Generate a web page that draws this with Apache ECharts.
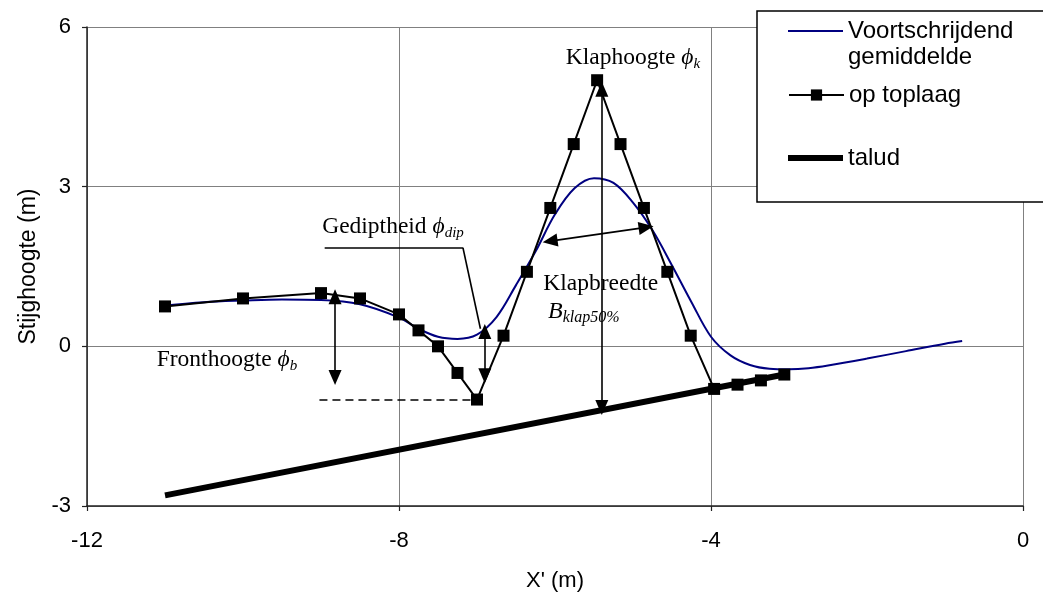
<!DOCTYPE html>
<html>
<head>
<meta charset="utf-8">
<script src="https://cdn.jsdelivr.net/npm/echarts@6/dist/echarts.min.js"></script>
<style>
  html, body { margin: 0; padding: 0; background: #fff; }
  #chart { width: 1043px; height: 593px; }
</style>
</head>
<body>
<div id="chart"></div>
<script>
// Moving average of the water level
const avgX = [-11.06, -10.5, -10, -9.5, -9, -8.5, -8, -7.75, -7.5, -7.25, -7, -6.75, -6.5, -6.25, -6, -5.75, -5.5, -5.25, -5, -4.75, -4.5, -4.25, -4, -3.75, -3.5, -3.25, -3, -2.75, -2.5, -2, -1.5, -1, -0.78];
const avgY = [0.76, 0.83, 0.86, 0.88, 0.87, 0.79, 0.54, 0.33, 0.18, 0.14, 0.22, 0.55, 1.15, 1.78, 2.48, 2.97, 3.16, 3.07, 2.70, 2.18, 1.52, 0.83, 0.18, -0.17, -0.35, -0.42, -0.43, -0.41, -0.36, -0.23, -0.09, 0.05, 0.10];

// Measured levels on the top layer
const topX = [-11, -10, -9, -8.5, -8, -7.75, -7.5, -7.25, -7, -6.66, -6.36, -6.06, -5.76, -5.46, -5.16, -4.86, -4.56, -4.26, -3.96, -3.66, -3.36, -3.06];
const topY = [0.75, 0.9, 1.0, 0.9, 0.6, 0.3, 0, -0.5, -1.0, 0.2, 1.4, 2.6, 3.8, 5.0, 3.8, 2.6, 1.4, 0.2, -0.8, -0.72, -0.64, -0.53];

// Slope (talud)
const taludX = [-11, -3.06];
const taludY = [-2.8, -0.53];

const pairs = (xs, ys) => xs.map((x, i) => [x, ys[i]]);

const SANS = 'Liberation Sans, Arial, sans-serif';
const SERIF = 'Liberation Serif, Times New Roman, DejaVu Serif, serif';

// Annotation arrows and guide lines, in axis units
const arrowHead = { symbol: 'triangle', symbolSize: [13, 15] };
const arrow = (a, b) => [Object.assign({ coord: a }, arrowHead), Object.assign({ coord: b }, arrowHead)];
const plain = (a, b, style) => [{ coord: a, symbol: 'none', lineStyle: style }, { coord: b, symbol: 'none' }];

const annotationLines = [
  arrow([-8.82, 0.93], [-8.82, -0.585]),          // front height
  arrow([-6.90, 0.28], [-6.90, -0.553]),          // dip
  arrow([-5.40, 4.83], [-5.40, -1.15]),           // crest height
  arrow([-6.063, 1.977], [-4.832, 2.235]),        // crest width
  plain([-9.02, -1.0], [-7.05, -1.0], { type: [8, 5], width: 1.6 }),
  plain([-8.953, 1.853], [-7.18, 1.853]),
  plain([-7.18, 1.853], [-6.956, 0.33])
];

const rich = {
  t: { fontFamily: SERIF, fontSize: 23.5, color: '#000', lineHeight: 28, verticalAlign: 'middle' },
  p: { fontFamily: SERIF, fontSize: 23.5, fontStyle: 'italic', color: '#000', lineHeight: 28, verticalAlign: 'middle' },
  s: { fontFamily: SERIF, fontSize: 15, fontStyle: 'italic', color: '#000', lineHeight: 16, verticalAlign: 'bottom' },
  b: { fontFamily: SERIF, fontSize: 24, fontStyle: 'italic', color: '#000', lineHeight: 28, verticalAlign: 'middle' },
  bs: { fontFamily: SERIF, fontSize: 16, fontStyle: 'italic', color: '#000', lineHeight: 16, verticalAlign: 'bottom' }
};

const annotationTexts = [
  { coord: [-8.077, 2.254], text: '{t|Gediptheid }{p|ϕ}{s|dip}' },
  { coord: [-10.206, -0.246], text: '{t|Fronthoogte }{p|ϕ}{s|b}' },
  { coord: [-5.0, 5.43], text: '{t|Klaphoogte }{p|ϕ}{s|k}' },
  { coord: [-5.414, 1.177], text: '{t|Klapbreedte}' },
  { coord: [-5.63, 0.643], text: '{b|B}{bs|klap50%}' }
];

const chart = echarts.init(document.getElementById('chart'), null, { renderer: 'canvas' });

const legendText = { fontFamily: SANS, fontSize: 24, lineHeight: 26, color: '#000' };
const legendBase = {
  orient: 'vertical',
  left: 788,
  padding: 0,
  itemWidth: 55,
  itemHeight: 14,
  selectedMode: false,
  textStyle: legendText
};

const axisCommon = {
  type: 'value',
  axisLine: { show: true, onZero: false, lineStyle: { color: '#222', width: 1.5 } },
  axisTick: { show: true, inside: false, length: 5, lineStyle: { color: '#222', width: 1.2 } },
  splitLine: { show: true, lineStyle: { color: '#808080', width: 1 } },
  axisLabel: { fontFamily: SANS, fontSize: 22, color: '#000' },
  nameLocation: 'middle',
  nameTextStyle: { fontFamily: SANS, fontSize: 22, color: '#000' }
};

chart.setOption({
  animation: false,
  backgroundColor: '#fff',
  grid: { left: 87, right: 20, top: 27, bottom: 87, containLabel: false, outerBoundsMode: 'none' },
  xAxis: Object.assign({}, axisCommon, {
    min: -12, max: 0, interval: 4,
    name: "X' (m)", nameGap: 64,
    axisLabel: Object.assign({}, axisCommon.axisLabel, { margin: 24 })
  }),
  yAxis: Object.assign({}, axisCommon, {
    min: -3, max: 6, interval: 3,
    name: 'Stijghoogte (m)', nameGap: 47,
    nameTextStyle: { fontFamily: SANS, fontSize: 23, color: '#000' },
    axisLabel: Object.assign({}, axisCommon.axisLabel, { margin: 16 })
  }),
  legend: [
    Object.assign({}, legendBase, {
      data: [{ name: 'Voortschrijdend gemiddelde', icon: 'rect' }],
      itemHeight: 2, top: -8,
      // leading empty line keeps the first text line level with the icon
      formatter: n => '\n' + n.replace(' ', '\n')
    }),
    Object.assign({}, legendBase, { data: ['op toplaag'], top: 82 }),
    Object.assign({}, legendBase, {
      data: [{ name: 'talud', icon: 'rect' }],
      itemHeight: 6, top: 145
    })
  ],
  graphic: [{
    type: 'rect', z: 3,
    shape: { x: 757, y: 11, width: 320, height: 191 },
    style: { fill: '#fff', stroke: '#000', lineWidth: 1.5 }
  }],
  series: [
    {
      name: 'Voortschrijdend gemiddelde', type: 'line', z: 2,
      data: pairs(avgX, avgY), smooth: 0.35, symbol: 'none',
      itemStyle: { color: '#000080' },
      lineStyle: { color: '#000080', width: 2 }
    },
    {
      name: 'op toplaag', type: 'line', z: 3,
      data: pairs(topX, topY), symbol: 'rect', symbolSize: 12, showAllSymbol: true,
      itemStyle: { color: '#000' },
      lineStyle: { color: '#000', width: 2 }
    },
    {
      name: 'talud', type: 'line', z: 4,
      data: pairs(taludX, taludY), symbol: 'none',
      itemStyle: { color: '#000' },
      lineStyle: { color: '#000', width: 6 }
    },
    {
      name: 'annotaties', type: 'line', z: 5, data: [], silent: true,
      markLine: {
        silent: true, animation: false,
        symbol: ['none', 'none'],
        label: { show: false },
        emphasis: { disabled: true },
        lineStyle: { color: '#000', width: 1.6, type: 'solid' },
        data: annotationLines
      },
      markPoint: {
        silent: true, animation: false,
        symbol: 'circle', symbolSize: 1,
        itemStyle: { color: 'rgba(0,0,0,0)' },
        label: { show: true, position: 'inside', color: '#000', rich: rich },
        data: annotationTexts.map(a => ({ coord: a.coord, value: 0, label: { formatter: a.text } }))
      }
    }
  ]
});
</script>
</body>
</html>
